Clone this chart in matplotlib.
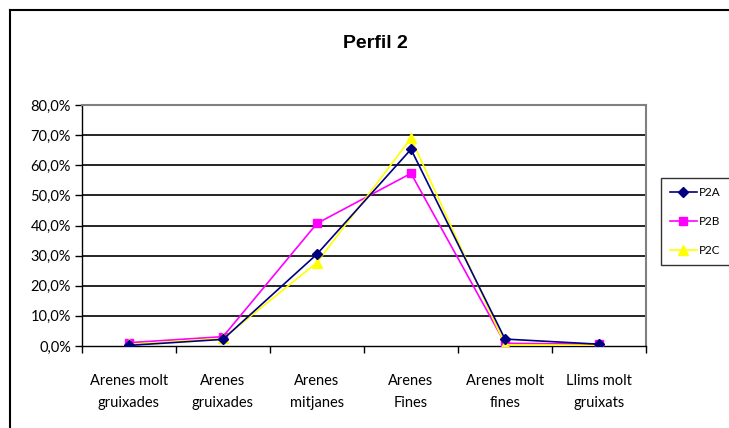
import matplotlib.pyplot as plt
from matplotlib.lines import Line2D
from matplotlib.ticker import FuncFormatter

categories = ['Arenes molt\ngruixades', 'Arenes\ngruixades', 'Arenes\nmitjanes',
              'Arenes\nFines', 'Arenes molt\nfines', 'Llims molt\ngruixats']
p2a = [0.2, 2.2, 30.5, 65.3, 2.3, 0.6]
p2b = [1.1, 3.1, 40.7, 57.3, 0.9, 0.6]
p2c = [0.5, 2.5, 27.7, 69.0, 0.4, 0.2]
y_ticks = [0, 10, 20, 30, 40, 50, 60, 70, 80]

plt.rcParams['font.family'] = ['Lato', 'DejaVu Sans']

fig = plt.figure(figsize=(7.29, 4.28), dpi=100)
ax = fig.add_axes([82 / 729, 1 - 346 / 428, 564 / 729, 241 / 428])

x = [i + 0.5 for i in range(len(categories))]
ax.plot(x, p2a, color='#000080', marker='D', markersize=5, lw=1.2, label='P2A', zorder=4)
ax.plot(x, p2b, color='#ff00ff', marker='s', markersize=6, lw=1.2, label='P2B', zorder=3)
ax.plot(x, p2c, color='#ffff00', marker='^', markersize=7, lw=1.2, label='P2C', zorder=3)

ax.set_xlim(0, 6)
ax.set_ylim(0, 80)
ax.set_yticks(y_ticks)
ax.yaxis.set_major_formatter(FuncFormatter(lambda v, p: ('%.1f%%' % v).replace('.', ',')))
for v in y_ticks[1:-1]:
    ax.axhline(v, color='black', lw=1.2, zorder=1)

# ticks on the category boundaries, labels centred
ax.set_xticks(range(7))
ax.set_xticklabels([])
ax.set_xticks(x, minor=True)
ax.set_xticklabels(categories, minor=True, fontsize=10.5, linespacing=1.75)
ax.tick_params(axis='x', which='minor', length=0, pad=20)
ax.tick_params(axis='x', which='major', direction='out', length=5, width=1)
ax.tick_params(axis='y', direction='out', length=5, width=1, labelsize=10.5, pad=3)

for side in ['top', 'right']:
    ax.spines[side].set_color('#808080')
    ax.spines[side].set_linewidth(1.5)
ax.spines['left'].set_linewidth(1)
ax.spines['bottom'].set_linewidth(1)

fig.text(375 / 729, 1 - 44 / 428, 'Perfil 2', ha='center', va='center',
         fontsize=14, fontweight='bold', family=['Liberation Sans', 'DejaVu Sans'])

leg = fig.legend(loc='upper left', bbox_to_anchor=(661 / 729, 1 - 178 / 428),
                 fontsize=8.5, frameon=True, fancybox=False, handlelength=2.3,
                 borderpad=0.75, labelspacing=1.55, handletextpad=0.2,
                 borderaxespad=0)
leg.get_frame().set_edgecolor('black')
leg.get_frame().set_linewidth(1)

# outer chart frame
fig.add_artist(Line2D([9.5 / 729, 9.5 / 729], [0, 1 - 9.5 / 428], color='black', lw=1.5))
fig.add_artist(Line2D([9.5 / 729, 1], [1 - 9.5 / 428, 1 - 9.5 / 428], color='black', lw=1.5))

fig.savefig('out.png', dpi=100)
